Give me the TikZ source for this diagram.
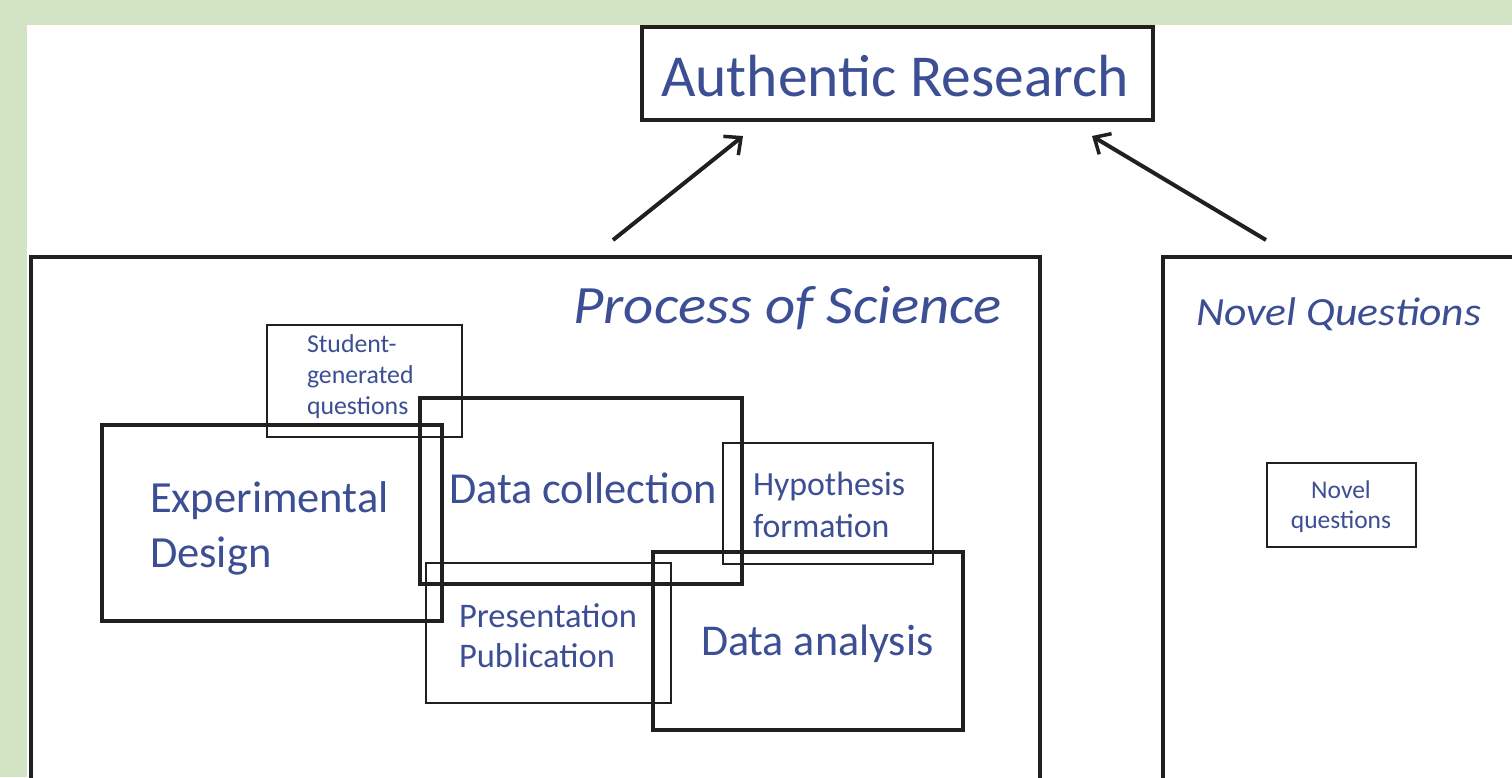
\documentclass[tikz,border=0pt]{standalone}
\usepackage{fontspec}
\setmainfont{Carlito}
\usetikzlibrary{arrows.meta}
\definecolor{pagegreen}{RGB}{210,228,196}
\definecolor{inkblue}{RGB}{60,78,148}
\definecolor{linec}{RGB}{32,32,32}
\tikzset{
  frame/.style={draw=linec, line width=#1, inner sep=0pt, outer sep=0pt, rectangle},
  lab/.style={text=inkblue, inner sep=0pt, outer sep=0pt, font=\fontsize{#1}{#1}\selectfont},
  itlab/.style={text=inkblue, inner sep=0pt, outer sep=0pt, font=\fontsize{#1}{#1}\selectfont\itshape},
  linkarrow/.style={draw=linec, line width=4pt, -{Straight Barb[length=13pt,width=24pt,line width=3.5pt]}}
}
\begin{document}
\begin{tikzpicture}[x=1pt,y=-1pt]
\useasboundingbox (0,0) rectangle (1512,777);
\clip (0,0) rectangle (1512,777);
% page margins
\fill[pagegreen] (0,0) rectangle (1512,777);
\fill[white] (27,25) rectangle (1512,777);

% top goal
\node[frame=4pt, minimum width=511pt, minimum height=93pt] (auth) at (897.5,73.5) {};
\node[lab=59.5, anchor=base] (authtxt) at (895,96) {Authentic Research};

% two large panels
\node[frame=4pt, anchor=north west, minimum width=1009pt, minimum height=560pt] (pos) at (31,257) {};
\node[frame=4pt, anchor=north west, minimum width=400pt, minimum height=560pt] (nq) at (1163,257) {};
\node[itlab=54, anchor=base east] (postxt) at (1002,323) {\scalebox{1.09}[1]{Process of Science}};
\node[itlab=40, anchor=base west] (nqtxt) at (1196,325) {\scalebox{1.09}[1]{Novel Questions}};

% arrows into the goal
\coordinate (a1s) at (613,240);
\coordinate (a1e) at (743,136);
\coordinate (a2s) at (1266,240);
\coordinate (a2e) at (1092,136);
\draw[linkarrow] (a1s) -- (a1e);
\draw[linkarrow] (a2s) -- (a2e);

% overlapping activity boxes
\node[frame=2.5pt, anchor=north west, minimum width=195pt, minimum height=112pt] (stud) at (267,325) {};
\node[frame=3.5pt, anchor=north west, minimum width=340pt, minimum height=196pt] (exp) at (102,425) {};
\node[frame=3.5pt, anchor=north west, minimum width=322pt, minimum height=186pt] (dc) at (420,398) {};
\node[frame=2.5pt, anchor=north west, minimum width=210pt, minimum height=121pt] (hyp) at (723,443) {};
\node[frame=2.5pt, anchor=north west, minimum width=245pt, minimum height=140pt] (pres) at (426,563) {};
\node[frame=3.5pt, anchor=north west, minimum width=310pt, minimum height=178pt] (da) at (653,552) {};
\node[frame=2.5pt, anchor=north west, minimum width=149pt, minimum height=84pt] (novq) at (1267,463) {};

% labels of the activity boxes
\node[lab=25.8, anchor=base west] (stud1) at (307,352) {Student-};
\node[lab=25.8, anchor=base west] (stud2) at (307,383) {generated};
\node[lab=25.8, anchor=base west] (stud3) at (307,414) {questions};
\node[lab=44.5, anchor=base west] (exp1) at (150,512) {Experimental};
\node[lab=44.5, anchor=base west] (exp2) at (150,567) {Design};
\node[lab=44.3, anchor=base west] (dctxt) at (449,503) {Data collection};
\node[lab=33.8, anchor=base west] (hyp1) at (753,495) {Hypothesis};
\node[lab=33.8, anchor=base west] (hyp2) at (753,537) {formation};
\node[lab=34.5, anchor=base west] (pres1) at (459,627) {Presentation};
\node[lab=34.5, anchor=base west] (pres2) at (459,667) {Publication};
\node[lab=44, anchor=base west] (datxt) at (701,655) {Data analysis};
\node[lab=25.5, anchor=base] (novq1) at (1341,498) {Novel};
\node[lab=25.5, anchor=base] (novq2) at (1341,528) {questions};
\end{tikzpicture}
\end{document}
